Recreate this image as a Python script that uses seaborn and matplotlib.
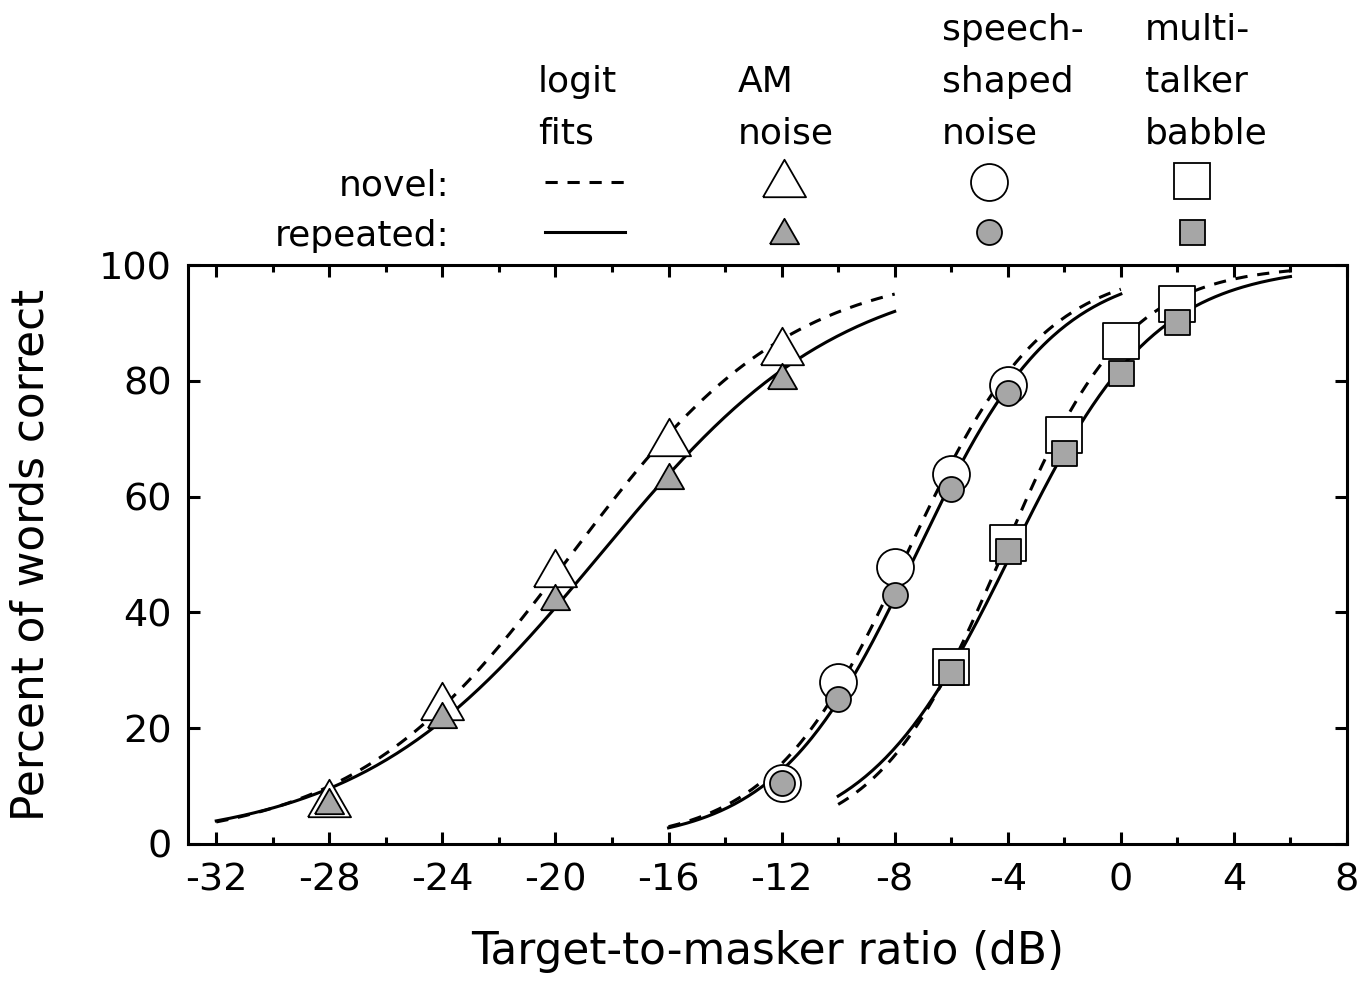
import numpy as np
import pandas as pd
import matplotlib
matplotlib.use("Agg")
import matplotlib.pyplot as plt
from matplotlib.ticker import MultipleLocator, FixedLocator
import seaborn as sns

# ---------------- data ----------------
tmr_am = [-28, -24, -20, -16, -12]
tmr_ssn = [-12, -10, -8, -6, -4]
tmr_bab = [-6, -4, -2, 0, 2]

am_novel = [7.9, 24.7, 47.7, 70.3, 86.0]
am_repeated = [7.4, 22.2, 42.7, 63.6, 80.9]
ssn_novel = [10.5, 27.9, 47.9, 63.9, 79.3]
ssn_repeated = [10.5, 25.0, 43.0, 61.3, 77.9]
bab_novel = [30.6, 52.0, 70.6, 86.9, 93.3]
bab_repeated = [29.7, 50.6, 67.5, 81.3, 90.2]

# logit fit parameters (midpoint and scale in dB, drawn range) per masker
fit_maskers = ["AM", "SSN", "BAB"]
fit_start = [-32, -16, -10]
fit_end = [-8, 0, 6]
fit_mid_novel = [-19.44, -7.58, -4.20]
fit_scale_novel = [3.89, 2.42, 2.22]
fit_mid_repeated = [-18.42, -7.25, -3.89]
fit_scale_repeated = [4.27, 2.465, 2.54]

xtick_vals = [-32, -28, -24, -20, -16, -12, -8, -4, 0, 4, 8]
ytick_vals = [0, 20, 40, 60, 80, 100]

# ---------------- build tables ----------------
def fit_table(mids, scales):
    rows = []
    for m, a, b, mid, sc in zip(fit_maskers, fit_start, fit_end, mids, scales):
        xs = np.linspace(a, b, 200)
        ps = 100.0 / (1.0 + np.exp(-(xs - mid) / sc))
        rows.append(pd.DataFrame({"tmr": xs, "pct": ps, "masker": m}))
    return pd.concat(rows, ignore_index=True)

fit_novel = fit_table(fit_mid_novel, fit_scale_novel)
fit_rep = fit_table(fit_mid_repeated, fit_scale_repeated)

df_am = pd.DataFrame({"tmr": tmr_am, "novel": am_novel, "repeated": am_repeated})
df_ssn = pd.DataFrame({"tmr": tmr_ssn, "novel": ssn_novel, "repeated": ssn_repeated})
df_bab = pd.DataFrame({"tmr": tmr_bab, "novel": bab_novel, "repeated": bab_repeated})

# ---------------- style ----------------
plt.rcParams["font.family"] = ["DejaVu Sans"]
plt.rcParams["axes.unicode_minus"] = False

W, H = 1372, 983
fig = plt.figure(figsize=(W / 100, H / 100), dpi=100)
ax_l, ax_r, ax_t, ax_b = 188, 1347, 265, 844
ax = fig.add_axes([ax_l / W, 1 - ax_b / H, (ax_r - ax_l) / W, (ax_b - ax_t) / H])

LW = 2.2
GRAY = "#a6a6a6"
DASH = (0, (4, 3.2))
tri = [(-1, -0.87), (1, -0.87), (0, 0.87), (-1, -0.87)]

# fits
sns.lineplot(data=fit_rep, x="tmr", y="pct", units="masker", estimator=None,
             color="black", linewidth=LW, ax=ax, zorder=2, sort=False)
sns.lineplot(data=fit_novel, x="tmr", y="pct", units="masker", estimator=None,
             color="black", linewidth=LW, linestyle=DASH, ax=ax, zorder=2, sort=False)

# open (novel) markers
OPEN_SQ = 26.6
FILL_SQ = 18.0
TRI_OPEN = 31.0
TRI_FILL = 21.0
EW = 1.3
sns.scatterplot(data=df_am, x="tmr", y="novel", marker=tri, s=TRI_OPEN ** 2,
                color="white", edgecolor="black", linewidth=EW, ax=ax, zorder=3)
sns.scatterplot(data=df_ssn, x="tmr", y="novel", marker="o", s=OPEN_SQ ** 2,
                color="white", edgecolor="black", linewidth=EW, ax=ax, zorder=3)
sns.scatterplot(data=df_bab, x="tmr", y="novel", marker="s", s=OPEN_SQ ** 2,
                color="white", edgecolor="black", linewidth=EW, ax=ax, zorder=3)
# filled (repeated) markers
sns.scatterplot(data=df_am, x="tmr", y="repeated", marker=tri, s=TRI_FILL ** 2,
                color=GRAY, edgecolor="black", linewidth=EW, ax=ax, zorder=4)
sns.scatterplot(data=df_ssn, x="tmr", y="repeated", marker="o", s=FILL_SQ ** 2,
                color=GRAY, edgecolor="black", linewidth=EW, ax=ax, zorder=4)
sns.scatterplot(data=df_bab, x="tmr", y="repeated", marker="s", s=FILL_SQ ** 2,
                color=GRAY, edgecolor="black", linewidth=EW, ax=ax, zorder=4)

# axes
ax.set_xlim(-33, 8)
ax.set_ylim(0, 100)
ax.xaxis.set_major_locator(FixedLocator(xtick_vals))
ax.xaxis.set_minor_locator(MultipleLocator(2))
ax.yaxis.set_major_locator(FixedLocator(ytick_vals))
ax.set_xticklabels([str(v) for v in xtick_vals])
ax.set_yticklabels([str(v) for v in ytick_vals])
for sp in ax.spines.values():
    sp.set_linewidth(LW)
    sp.set_color("black")
ax.tick_params(which="both", direction="in", top=True, right=True, width=LW, color="black")
ax.tick_params(which="major", length=8.6)
ax.tick_params(which="minor", length=5)
ax.tick_params(axis="x", which="major", labelsize=27.5, pad=13)
ax.tick_params(axis="y", which="major", labelsize=27.5, pad=11.5)
ax.set_xlabel("Target-to-masker ratio (dB)", fontsize=31.5)
ax.set_ylabel("Percent of words correct", fontsize=31.5)
ax.xaxis.set_label_coords(0.5, (ax_b - 930) / (ax_b - ax_t))
ax.yaxis.set_label_coords((53 - ax_l) / (ax_r - ax_l), 0.5)
ax.legend().remove() if ax.get_legend() else None

# ---------------- custom legend (figure pixel coordinates) ----------------
lax = fig.add_axes([0, 0, 1, 1], zorder=5)
lax.set_xlim(0, W)
lax.set_ylim(H, 0)
lax.axis("off")
lax.patch.set_alpha(0)

FS = 26
col_x = [538, 738, 942, 1145]
headers = [["logit", "fits"], ["AM", "noise"], ["speech-", "shaped", "noise"],
           ["multi-", "talker", "babble"]]
base_y = [40, 92, 143]
for cx, lines in zip(col_x, headers):
    ys = base_y[-len(lines):]
    for t, y in zip(lines, ys):
        lax.text(cx, y, t, ha="left", va="baseline", fontsize=FS)
lax.text(450, 195, "novel:", ha="right", va="baseline", fontsize=FS)
lax.text(450, 246, "repeated:", ha="right", va="baseline", fontsize=FS)

lax.plot([545, 625], [182, 182], color="black", linewidth=LW, linestyle=DASH)
lax.plot([545, 625], [232, 232], color="black", linewidth=LW)
lax.plot([784], [178], marker=tri, ms=TRI_OPEN, mfc="white", mec="black", mew=EW, ls="none")
lax.plot([784], [231], marker=tri, ms=TRI_FILL, mfc=GRAY, mec="black", mew=EW, ls="none")
lax.plot([989], [182], marker="o", ms=OPEN_SQ, mfc="white", mec="black", mew=EW, ls="none")
lax.plot([989], [232], marker="o", ms=FILL_SQ, mfc=GRAY, mec="black", mew=EW, ls="none")
lax.plot([1192], [181], marker="s", ms=OPEN_SQ, mfc="white", mec="black", mew=EW, ls="none")
lax.plot([1192], [232], marker="s", ms=FILL_SQ, mfc=GRAY, mec="black", mew=EW, ls="none")

fig.savefig("out.png", dpi=100, facecolor="white")
